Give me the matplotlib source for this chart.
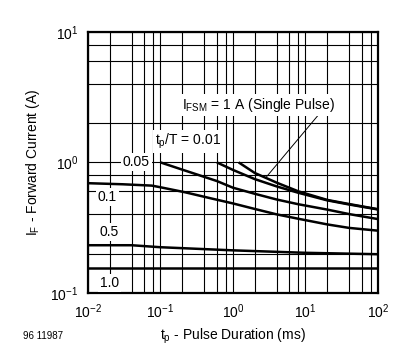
import numpy as np
import matplotlib
matplotlib.use('Agg')
import matplotlib.pyplot as plt
from matplotlib.ticker import LogLocator, NullFormatter

plt.rcParams['font.family'] = ['Liberation Sans', 'DejaVu Sans']
plt.rcParams['mathtext.fontset'] = 'custom'
plt.rcParams['mathtext.rm'] = 'Liberation Sans'
plt.rcParams['mathtext.it'] = 'Liberation Sans:italic'
plt.rcParams['mathtext.bf'] = 'Liberation Sans:bold'

# curves, x in ms, y in A
single_x = [1.2, 2, 4, 8, 20, 40, 100]
single_y = [1.0, 0.83, 0.70, 0.60, 0.516, 0.48, 0.438]

d001_x = [0.6, 1, 2, 4, 8, 20, 40, 100]
d001_y = [1.0, 0.876, 0.745, 0.655, 0.585, 0.512, 0.476, 0.436]

d005_x = [0.1, 0.2, 0.6, 1, 2, 4, 8, 20, 40, 100]
d005_y = [1.0, 0.88, 0.72, 0.64, 0.575, 0.52, 0.478, 0.435, 0.402, 0.368]

d01_x = [0.01, 0.03, 0.076, 0.1, 0.22, 0.5, 1, 2, 4, 8, 20, 40, 100]
d01_y = [0.693, 0.68, 0.664, 0.645, 0.59, 0.53, 0.485, 0.44, 0.40, 0.37,
         0.335, 0.315, 0.30]

d05_x = [0.01, 0.04, 0.1, 1, 10, 100]
d05_y = [0.232, 0.232, 0.224, 0.212, 0.203, 0.198]

d1_x = [0.01, 100]
d1_y = [0.155, 0.155]

x_ticks = [1e-2, 1e-1, 1e0, 1e1, 1e2]
x_ticklabels = ['$\\mathregular{10^{-2}}$', '$\\mathregular{10^{-1}}$',
                '$\\mathregular{10^{0}}$', '$\\mathregular{10^{1}}$',
                '$\\mathregular{10^{2}}$']
y_ticks = [1e-1, 1e0, 1e1]
y_ticklabels = ['$\\mathregular{10^{-1}}$', '$\\mathregular{10^{0}}$',
                '$\\mathregular{10^{1}}$']

fig = plt.figure(figsize=(4.13, 3.5), dpi=100)
ax = fig.add_axes([0.213, 0.163, 0.702, 0.746])
ax.set_xscale('log')
ax.set_yscale('log')
ax.set_xlim(1e-2, 1e2)
ax.set_ylim(1e-1, 1e1)

ax.xaxis.set_minor_locator(LogLocator(base=10, subs=[2, 4, 6, 8]))
ax.yaxis.set_minor_locator(LogLocator(base=10, subs=[2, 4, 6, 8]))
ax.xaxis.set_minor_formatter(NullFormatter())
ax.yaxis.set_minor_formatter(NullFormatter())
ax.set_xticks(x_ticks)
ax.set_xticklabels(x_ticklabels, fontsize=10)
ax.set_yticks(y_ticks)
ax.set_yticklabels(y_ticklabels, fontsize=10)
ax.tick_params(which='both', length=0, pad=7)
ax.grid(which='both', color='black', lw=0.8)
for s in ax.spines.values():
    s.set_linewidth(1.6)

lw = 1.8
for xs, ys in [(single_x, single_y), (d001_x, d001_y), (d005_x, d005_y),
               (d01_x, d01_y), (d05_x, d05_y), (d1_x, d1_y)]:
    ax.plot(xs, ys, color='black', lw=lw, solid_capstyle='butt',
            solid_joinstyle='round')

box = dict(facecolor='white', edgecolor='none', pad=1.5)
ax.text(0.0716, 1.0, '0.05', ha='right', va='center', fontsize=10, bbox=box)
ax.text(0.084, 1.44, '$\\mathregular{t_p}$/T = 0.01', ha='left', va='center',
        fontsize=10, bbox=box)
ax.text(0.198, 2.76, '$\\mathregular{I_{FSM}}$ = 1 A (Single Pulse)', ha='left',
        va='center', fontsize=10, bbox=box)
ax.plot([15.8, 2.92], [2.38, 0.778], color='black', lw=0.7)
ax.text(0.0137, 0.547, '0.1', ha='left', va='center', fontsize=10, bbox=box)
ax.text(0.0146, 0.295, '0.5', ha='left', va='center', fontsize=10, bbox=box)
ax.text(0.0146, 0.119, '1.0', ha='left', va='center', fontsize=10, bbox=box)

ax.set_xlabel('$\\mathregular{t_p}$ - Pulse Duration (ms)', fontsize=10, labelpad=4)
ax.set_ylabel('$\\mathregular{I_F}$ - Forward Current (A)', fontsize=10, labelpad=6)
fig.text(0.056, 0.04, '96 11987', fontsize=7, ha='left', va='center')

fig.savefig('out.png', dpi=100)
